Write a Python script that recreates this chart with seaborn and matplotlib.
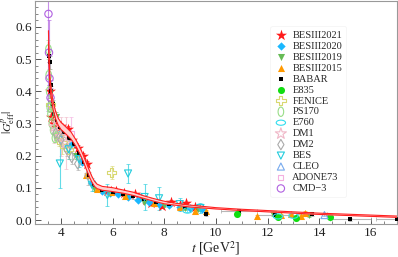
import numpy as np
import matplotlib
matplotlib.use("Agg")
import matplotlib.pyplot as plt
import matplotlib.path as mpath
import matplotlib.transforms as mtrans
from matplotlib.ticker import MultipleLocator, FormatStrFormatter
import seaborn as sns

sns.set_theme(style="ticks")
plt.rcParams["font.family"] = ["Liberation Serif", "DejaVu Serif"]
plt.rcParams["mathtext.fontset"] = "stix"

# fit curve with band
t_fit = [3.52, 3.54, 3.57, 3.6, 3.65, 3.7, 3.8, 3.9, 4.0, 4.2, 4.4, 4.6, 4.8, 4.9, 5.0,
         5.1, 5.2, 5.3, 5.4, 5.6, 5.8, 6.0, 6.4, 6.8, 7.2, 7.6, 8.0, 8.5, 9.0, 10.0,
         11.0, 12.0, 13.0, 14.0, 15.0, 16.0, 17.0]
g_fit = [0.57, 0.50, 0.44, 0.41, 0.38, 0.355, 0.325, 0.305, 0.293, 0.278, 0.262, 0.237, 0.205, 0.185, 0.165,
         0.145, 0.127, 0.113, 0.105, 0.099, 0.097, 0.095, 0.089, 0.082, 0.072, 0.063, 0.055, 0.049, 0.044, 0.037,
         0.032, 0.028, 0.024, 0.020, 0.017, 0.014, 0.011]
g_band = [0.018, 0.018, 0.016, 0.014, 0.013, 0.012, 0.012, 0.011, 0.011, 0.011, 0.011, 0.01, 0.01, 0.01, 0.01,
          0.01, 0.009, 0.008, 0.007, 0.006, 0.006, 0.006, 0.005, 0.005, 0.004, 0.004, 0.004, 0.003, 0.003, 0.002,
          0.002, 0.002, 0.002, 0.002, 0.002, 0.002, 0.002]

# datasets: t, |G|, error
bes21_t = [3.58, 3.62, 3.75, 4.0, 4.27, 4.45, 4.65, 4.85, 5.0, 5.77, 5.95, 6.15, 6.46, 6.85, 7.1, 7.3, 7.5, 7.9, 8.27, 8.6, 8.85, 9.2]
bes21_g = [0.40, 0.32, 0.30, 0.292, 0.283, 0.25, 0.225, 0.20, 0.175, 0.092, 0.090, 0.092, 0.086, 0.080, 0.070, 0.062, 0.052, 0.043, 0.058, 0.048, 0.052, 0.040]
bes21_e = [0.02, 0.015, 0.012, 0.01, 0.01, 0.01, 0.008, 0.008, 0.008, 0.006, 0.005, 0.005, 0.005, 0.005, 0.005, 0.005, 0.004, 0.004, 0.005, 0.004, 0.004, 0.004]

bes20_t = [4.0, 4.4, 4.8, 5.2, 5.6, 5.9, 6.2, 6.6, 7.0, 7.4, 7.8, 8.2, 8.6, 9.0, 9.45]
bes20_g = [0.27, 0.235, 0.18, 0.115, 0.090, 0.086, 0.081, 0.073, 0.064, 0.056, 0.050, 0.046, 0.042, 0.038, 0.036]
bes20_e = [0.008, 0.006, 0.005, 0.004, 0.003, 0.003, 0.003, 0.003, 0.003, 0.003, 0.003, 0.003, 0.003, 0.003, 0.003]

bes19_t = [3.6, 3.8, 4.1, 4.6, 5.3, 5.9, 6.5, 7.2, 8.0, 8.8, 9.3, 12.2, 13.6]
bes19_g = [0.36, 0.32, 0.27, 0.20, 0.10, 0.085, 0.075, 0.058, 0.047, 0.038, 0.035, 0.018, 0.015]
bes19_e = [0.02, 0.015, 0.012, 0.01, 0.008, 0.008, 0.007, 0.006, 0.006, 0.006, 0.005, 0.006, 0.006]

bes15_t = [4.97, 5.4, 5.95, 6.5, 7.6, 8.6, 9.2, 9.6, 11.6, 12.5, 12.9, 13.3, 13.45]
bes15_g = [0.14, 0.098, 0.088, 0.075, 0.055, 0.042, 0.030, 0.028, 0.013, 0.015, 0.018, 0.012, 0.021]
bes15_e = [0.006, 0.005, 0.005, 0.004, 0.004, 0.004, 0.003, 0.003, 0.004, 0.004, 0.004, 0.004, 0.008]

babar_t = [3.55, 3.57, 3.6, 3.62, 3.68, 3.75, 3.85, 3.95, 4.1, 4.3, 4.5, 4.7, 4.9, 5.1, 5.3, 5.6, 6.0, 6.4,
           6.8, 7.2, 7.7, 8.2, 8.8, 9.6, 10.9, 12.3, 13.7, 15.2, 17.0]
babar_g = [0.51, 0.49, 0.42, 0.40, 0.36, 0.33, 0.31, 0.29, 0.275, 0.255, 0.235, 0.21, 0.18, 0.14, 0.11, 0.095, 0.088, 0.082,
           0.075, 0.066, 0.056, 0.050, 0.042, 0.018, 0.028, 0.015, 0.018, 0.003, 0.005]
babar_e = [0.02, 0.02, 0.015, 0.015, 0.012, 0.01, 0.01, 0.01, 0.01, 0.01, 0.01, 0.01, 0.01, 0.01, 0.008, 0.008, 0.008, 0.008,
           0.008, 0.008, 0.008, 0.008, 0.008, 0.006, 0.006, 0.006, 0.006, 0.005, 0.005]
babar_xe = [0] * 24 + [0.7, 0.7, 0.6, 0.8, 0.8]

e835_t = [10.8, 12.4, 13.1, 14.4]
e835_g = [0.018, 0.010, 0.008, 0.010]
e835_e = [0.003, 0.003, 0.003, 0.004]

fenice_t = [3.6, 3.92, 4.04, 4.3, 5.96]
fenice_g = [0.36, 0.26, 0.24, 0.22, 0.148]
fenice_e = [0.03, 0.03, 0.035, 0.03, 0.02]

ps170_t = [3.52, 3.53, 3.55, 3.57, 3.6, 3.65, 3.7, 3.77, 3.85]
ps170_g = [0.53, 0.45, 0.40, 0.35, 0.33, 0.30, 0.28, 0.255, 0.26]
ps170_e = [0.03, 0.02, 0.02, 0.015, 0.015, 0.012, 0.012, 0.012, 0.012]

e760_t = [8.9, 12.4, 13.0]
e760_g = [0.030, 0.012, 0.014]
e760_e = [0.004, 0.003, 0.003]

dm1_t = [3.75, 4.0, 4.2]
dm1_g = [0.29, 0.26, 0.24]
dm1_e = [0.05, 0.06, 0.08]

dm2_t = [3.8, 4.0, 4.23, 4.42, 4.65, 5.05]
dm2_g = [0.27, 0.25, 0.22, 0.195, 0.175, 0.14]
dm2_e = [0.02, 0.02, 0.02, 0.02, 0.02, 0.03]

bes_t = [3.96, 4.3, 4.7, 5.2, 5.8, 6.6, 7.24, 7.8, 8.6, 9.4]
bes_g = [0.176, 0.22, 0.19, 0.11, 0.078, 0.145, 0.072, 0.068, 0.05, 0.038]
bes_e = [0.075, 0.03, 0.025, 0.02, 0.035, 0.03, 0.04, 0.035, 0.02, 0.015]

cleo_t = [14.2]
cleo_g = [0.016]
cleo_e = [0.003]

adone_t = [4.41]
adone_g = [0.27]
adone_e = [0.05]

cmd3_t = [3.52, 3.54, 3.56, 3.6]
cmd3_g = [0.64, 0.52, 0.44, 0.38]
cmd3_e = [0.3, 0.1, 0.05, 0.03]

circ = mpath.Path.unit_circle()
ell_v = mpath.Path(mtrans.Affine2D().scale(0.6, 1.0).transform(circ.vertices), circ.codes)
ell_h = mpath.Path(mtrans.Affine2D().scale(1.0, 0.55).transform(circ.vertices), circ.codes)

# name, t, g, err, marker, color, size, filled
sets = [
    ("BESIII2021", bes21_t, bes21_g, bes21_e, "*", "#ff1a1a", 70, True),
    ("BESIII2020", bes20_t, bes20_g, bes20_e, "D", "#1ab8ff", 18, True),
    ("BESIII2019", bes19_t, bes19_g, bes19_e, "v", "#66bb55", 26, True),
    ("BESIII2015", bes15_t, bes15_g, bes15_e, "^", "#ff9900", 26, True),
    ("BABAR", babar_t, babar_g, babar_e, "s", "#000000", 12, True),
    ("E835", e835_t, e835_g, e835_e, "o", "#11dd11", 26, True),
    ("FENICE", fenice_t, fenice_g, fenice_e, "P", "#d8d870", 45, False),
    ("PS170", ps170_t, ps170_g, ps170_e, ell_v, "#99dd88", 45, False),
    ("E760", e760_t, e760_g, e760_e, ell_h, "#33ddee", 45, False),
    ("DM1", dm1_t, dm1_g, dm1_e, "*", "#f0b8c8", 70, False),
    ("DM2", dm2_t, dm2_g, dm2_e, "d", "#aaaaaa", 28, False),
    ("BES", bes_t, bes_g, bes_e, "v", "#22ccdd", 26, False),
    ("CLEO", cleo_t, cleo_g, cleo_e, "^", "#77aaee", 26, False),
    ("ADONE73", adone_t, adone_g, adone_e, "s", "#f4b0e0", 14, False),
    ("CMD\u22123", cmd3_t, cmd3_g, cmd3_e, "o", "#b060e0", 28, False),
]

fig = plt.figure(figsize=(3.98, 2.57), dpi=100)
ax = fig.add_axes([0.088, 0.128, 0.909, 0.868])

lo = np.array(g_fit) - np.array(g_band)
hi = np.array(g_fit) + np.array(g_band)
ax.fill_between(t_fit, lo, hi, color="#ffd0d0", lw=0, zorder=4)
ax.plot(t_fit, lo, color="#ff2020", lw=0.8, zorder=4)
ax.plot(t_fit, hi, color="#ff2020", lw=0.8, zorder=4)

for name, t, g, e, m, c, s, filled in sets:
    xe = babar_xe if name == "BABAR" else None
    ecol = "#999999" if name == "BABAR" else c
    ax.errorbar(t, g, yerr=e, xerr=xe, fmt="none", ecolor=ecol, elinewidth=0.8,
                capsize=1.5, capthick=0.6, alpha=0.7, zorder=2)
    if filled:
        sns.scatterplot(x=t, y=g, marker=m, s=s, color=c, linewidth=0,
                        ax=ax, label=name, zorder=3)
    else:
        sns.scatterplot(x=t, y=g, marker=m, s=s, color=c, facecolor="none",
                        edgecolor=c, linewidth=0.8, ax=ax, label=name, zorder=3)

ax.set_xlim(3, 17)
ax.set_ylim(-0.012, 0.68)
ax.xaxis.set_major_locator(MultipleLocator(2))
ax.xaxis.set_minor_locator(MultipleLocator(0.5))
ax.yaxis.set_major_locator(MultipleLocator(0.1))
ax.yaxis.set_minor_locator(MultipleLocator(0.02))
ax.yaxis.set_major_formatter(FormatStrFormatter("%.1f"))
ax.tick_params(which="both", direction="in", colors="#555555", labelcolor="#222222",
               labelsize=9.5, pad=2)
ax.tick_params(which="major", length=4, width=0.7)
ax.tick_params(which="minor", length=2, width=0.5)
for sp in ax.spines.values():
    sp.set_color("#999999")
    sp.set_linewidth(0.8)

ax.set_xlabel(r"$t$ [GeV$^2$]", fontsize=10, color="#222222", labelpad=0)
ax.set_ylabel(r"$|G_{\rm eff}^{p}|$", fontsize=8.5, color="#222222")
ax.yaxis.set_label_coords(-0.05, 0.457)

leg = ax.legend(loc="upper right", bbox_to_anchor=(0.875, 0.91), fontsize=7.5,
                frameon=True, labelspacing=0.16, handletextpad=0.5,
                borderpad=0.4, handlelength=1.2)
leg.get_frame().set_edgecolor("#f2f2f2")
leg.get_frame().set_linewidth(0.6)

fig.savefig("out.png", dpi=100)
